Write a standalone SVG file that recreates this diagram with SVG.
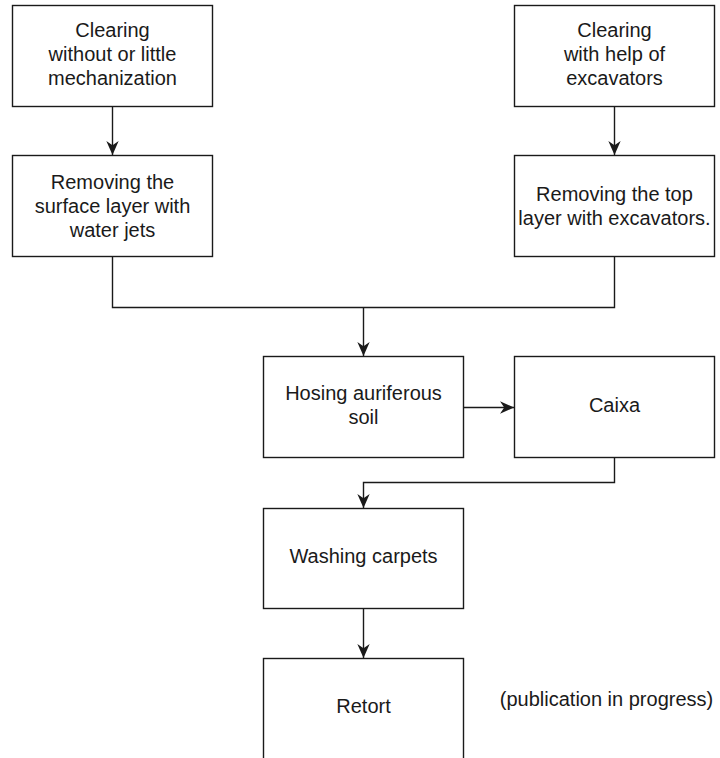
<svg xmlns="http://www.w3.org/2000/svg" width="720" height="758" viewBox="0 0 720 758">
<style>
.box{fill:#ffffff;stroke:#1a1a1a;stroke-width:1.4}
.t{font-family:"Liberation Sans",Arial,sans-serif;font-size:20px;fill:#1a1a1a;text-anchor:middle}
.c{fill:none;stroke:#1a1a1a;stroke-width:1.4}
</style>
<defs>
<marker id="arr" viewBox="0 0 10 10" refX="10" refY="5" markerWidth="14" markerHeight="14" markerUnits="userSpaceOnUse" orient="auto">
<path d="M0,0.6 L10,5 L0,9.4 L3,5 Z" fill="#1a1a1a"/>
</marker>
</defs>
<rect width="720" height="758" fill="#ffffff"/>
<g id="connectors">
<path class="c" d="M112.5,106.5 V155" marker-end="url(#arr)"/>
<path class="c" d="M614.5,106.5 V155" marker-end="url(#arr)"/>
<path class="c" d="M112.5,256.5 V307.5 H614.5 V256.5"/>
<path class="c" d="M363.5,307.5 V356" marker-end="url(#arr)"/>
<path class="c" d="M463.5,407.5 H514" marker-end="url(#arr)"/>
<path class="c" d="M614.5,457.5 V482.5 H363.5 V508" marker-end="url(#arr)"/>
<path class="c" d="M363.5,608.5 V658" marker-end="url(#arr)"/>
</g>
<g id="n1">
<rect class="box" x="12.5" y="5.5" width="200" height="101"/>
<text class="t" x="112.5" y="37">Clearing</text>
<text class="t" x="112.5" y="61">without or little</text>
<text class="t" x="112.5" y="85">mechanization</text>
</g>
<g id="n2">
<rect class="box" x="12.5" y="155.5" width="200" height="101"/>
<text class="t" x="112.5" y="189">Removing the</text>
<text class="t" x="112.5" y="213">surface layer with</text>
<text class="t" x="112.5" y="237">water jets</text>
</g>
<g id="n3">
<rect class="box" x="514.5" y="5.5" width="200" height="101"/>
<text class="t" x="614.5" y="37">Clearing</text>
<text class="t" x="614.5" y="61">with help of</text>
<text class="t" x="614.5" y="85">excavators</text>
</g>
<g id="n4">
<rect class="box" x="514.5" y="155.5" width="200" height="101"/>
<text class="t" x="614.5" y="201">Removing the top</text>
<text class="t" x="614.5" y="225">layer with excavators.</text>
</g>
<g id="n5">
<rect class="box" x="263.5" y="356.5" width="200" height="101"/>
<text class="t" x="363.5" y="400">Hosing auriferous</text>
<text class="t" x="363.5" y="424">soil</text>
</g>
<g id="n6">
<rect class="box" x="514.5" y="356.5" width="200" height="101"/>
<text class="t" x="614.5" y="412">Caixa</text>
</g>
<g id="n7">
<rect class="box" x="263.5" y="508.5" width="200" height="100"/>
<text class="t" x="363.5" y="563">Washing carpets</text>
</g>
<g id="n8">
<rect class="box" x="263.5" y="658.5" width="200" height="120"/>
<text class="t" x="363.5" y="713">Retort</text>
</g>
<g id="note">
<text class="t" x="606.5" y="706">(publication in progress)</text>
</g>
</svg>
